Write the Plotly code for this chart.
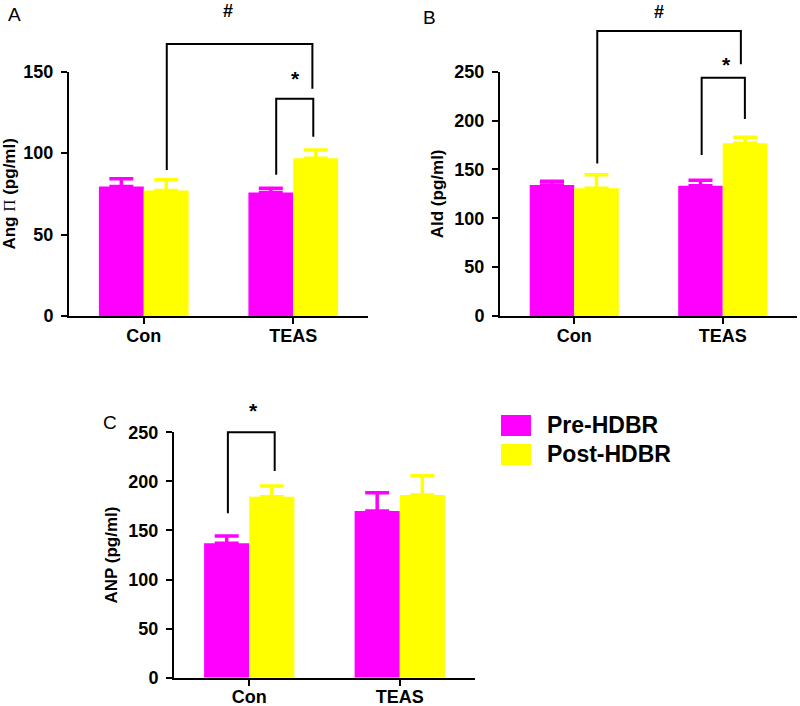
import plotly.graph_objects as go

# ---------------- data ----------------
categories = ["Con", "TEAS"]
series_names = ["Pre-HDBR", "Post-HDBR"]

ang_pre = [79.5, 75.8]
ang_pre_err = [4.8, 2.7]
ang_post = [77.0, 96.9]
ang_post_err = [6.6, 5.1]

ald_pre = [134.0, 133.4]
ald_pre_err = [4.0, 5.6]
ald_post = [130.7, 176.7]
ald_post_err = [13.9, 6.3]

anp_pre = [136.9, 169.8]
anp_pre_err = [7.4, 18.7]
anp_post = [184.4, 186.0]
anp_post_err = [10.9, 19.8]

y_ticks_A = [0, 50, 100, 150]
y_ticks_BC = [0, 50, 100, 150, 200, 250]

# significance brackets: (x_left, x_right, y_left_end, y_top, y_right_end) in data units
brackets_A = [(0.154, 1.128, 89.7, 167, 139.5), (0.886, 1.134, 86.7, 133.4, 110)]
brackets_B = [(0.155, 1.122, 156, 291.7, 257.6), (0.858, 1.149, 164.8, 243.9, 201.6)]
brackets_C = [(-0.142, 0.169, 167.5, 250, 210.6)]
marks_A = [("#", 0.564, 187), ("*", 1.013, 146)]
marks_B = [("#", 0.568, 311), ("*", 1.027, 257)]
marks_C = [("*", 0.027, 272)]

PRE_COLOR = "#FF00FF"
POST_COLOR = "#FFFF00"
FONT = "Liberation Sans, Arial, sans-serif"

W, H = 800, 706
XR = [-0.5, 1.5]

def px_x(p):
    return p / W

def px_y(p):
    return 1 - p / H

panels = [
    dict(key="", ymax=150, ticks=y_ticks_A,
         title="Ang <span style='font-family:Liberation Serif;font-weight:normal'>Π</span> (pg/ml)",
         pre=ang_pre, pre_err=ang_pre_err, post=ang_post, post_err=ang_post_err,
         xdom=[px_x(69), px_x(368)], ydom=[px_y(316), px_y(71.7)],
         brackets=brackets_A, marks=marks_A, letter=("A", 14, 15)),
    dict(key="2", ymax=250, ticks=y_ticks_BC, title="Ald (pg/ml)",
         pre=ald_pre, pre_err=ald_pre_err, post=ald_post, post_err=ald_post_err,
         xdom=[px_x(500), px_x(797)], ydom=[px_y(316), px_y(71.7)],
         brackets=brackets_B, marks=marks_B, letter=("B", 429, 17)),
    dict(key="3", ymax=250, ticks=y_ticks_BC, title="ANP (pg/ml)",
         pre=anp_pre, pre_err=anp_pre_err, post=anp_post, post_err=anp_post_err,
         xdom=[px_x(174), px_x(475)], ydom=[px_y(677.7), px_y(432.3)],
         brackets=brackets_C, marks=marks_C, letter=("C", 110, 422)),
]

fig = go.Figure()
shapes = []
annotations = []
x_pos = [0, 1]

for p in panels:
    k = p["key"]
    xa, ya = "x" + k, "y" + k
    fig.add_trace(go.Bar(
        x=x_pos, y=p["pre"], name=series_names[0], marker=dict(color=PRE_COLOR, line=dict(width=0)),
        error_y=dict(type="data", symmetric=False, array=p["pre_err"], arrayminus=[0, 0],
                     color=PRE_COLOR, thickness=3.5, width=12),
        xaxis=xa, yaxis=ya, showlegend=False, offsetgroup="pre"))
    fig.add_trace(go.Bar(
        x=x_pos, y=p["post"], name=series_names[1], marker=dict(color=POST_COLOR, line=dict(width=0)),
        error_y=dict(type="data", symmetric=False, array=p["post_err"], arrayminus=[0, 0],
                     color=POST_COLOR, thickness=3.5, width=12),
        xaxis=xa, yaxis=ya, showlegend=False, offsetgroup="post"))

    axis_common = dict(showline=True, linecolor="black", linewidth=2, ticks="outside",
                       ticklen=6, tickwidth=2, tickcolor="black", showgrid=False, zeroline=False,
                       automargin=False,
                       tickfont=dict(family=FONT, size=18, color="black", weight="bold"))
    fig.update_layout(**{
        "xaxis" + k: dict(domain=p["xdom"], range=XR, anchor=ya, tickvals=x_pos,
                          ticktext=categories, ticklabelstandoff=-4, **axis_common),
        "yaxis" + k: dict(domain=p["ydom"], range=[0, p["ymax"]], anchor=xa, tickvals=p["ticks"],
                          ticklabelstandoff=4,
                          title=dict(text=p["title"], standoff=6,
                                     font=dict(family=FONT, size=17, color="black", weight="bold")),
                          **axis_common),
    })

    xd = "x" + k + " domain"
    yd = "y" + k + " domain"
    def dx(v):
        return (v - XR[0]) / (XR[1] - XR[0])
    def dy(v, ymax=p["ymax"]):
        return v / ymax
    for (x0, x1, yl, yt, yr) in p["brackets"]:
        path = "M {:.5f},{:.5f} L {:.5f},{:.5f} L {:.5f},{:.5f} L {:.5f},{:.5f}".format(
            dx(x0), dy(yl), dx(x0), dy(yt), dx(x1), dy(yt), dx(x1), dy(yr))
        shapes.append(dict(type="path", path=path, xref=xd, yref=yd,
                           line=dict(color="black", width=2)))
    for (txt, x, y) in p["marks"]:
        annotations.append(dict(text="<b>" + txt + "</b>", x=dx(x), y=dy(y), xref=xd, yref=yd,
                                showarrow=False, xanchor="center", yanchor="middle",
                                font=dict(family=FONT, size=18 if txt == "#" else 21, color="black")))
    lt, lx, ly = p["letter"]
    annotations.append(dict(text=lt, x=px_x(lx), y=px_y(ly), xref="paper", yref="paper",
                            showarrow=False, xanchor="center", yanchor="middle",
                            font=dict(family=FONT, size=19, color="black")))

# legend (drawn manually to match the large swatches)
legend_items = [(series_names[0], PRE_COLOR, 415, 436), (series_names[1], POST_COLOR, 444, 465)]
for name, col, y0, y1 in legend_items:
    shapes.append(dict(type="rect", xref="paper", yref="paper", x0=px_x(501), x1=px_x(531),
                       y0=px_y(y1), y1=px_y(y0), fillcolor=col, line=dict(width=0)))
    annotations.append(dict(text="<b>" + name + "</b>", x=px_x(545), y=px_y((y0 + y1) / 2),
                            xref="paper", yref="paper", showarrow=False, xanchor="left",
                            yanchor="middle", font=dict(family=FONT, size=23, color="black")))

fig.update_layout(
    width=W, height=H, margin=dict(l=0, r=0, t=0, b=0, autoexpand=False),
    paper_bgcolor="white", plot_bgcolor="white",
    barmode="group", bargap=0.4, bargroupgap=0,
    shapes=shapes, annotations=annotations, showlegend=False,
    font=dict(family=FONT, color="black"),
)

fig.write_html("out.html", config={"displayModeBar": False},
               post_script="document.body.style.margin='0';document.body.style.overflow='hidden';")
